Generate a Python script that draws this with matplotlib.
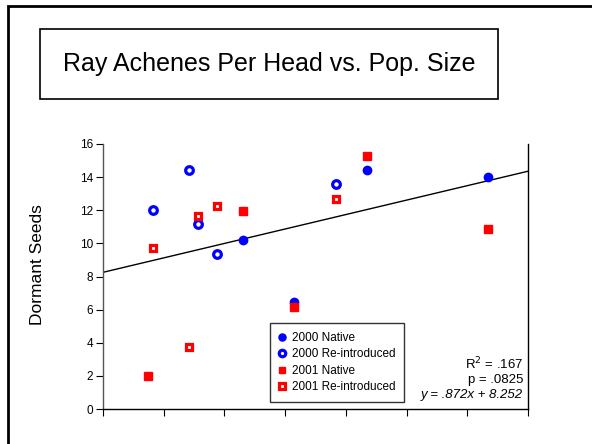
import matplotlib
matplotlib.use("Agg")
import matplotlib.pyplot as plt
from matplotlib.patches import Rectangle

plt.rcParams['font.family'] = ['Liberation Sans', 'DejaVu Sans']

# datos
nat00_x = [2.30, 4.35, 6.34, 3.14]
nat00_y = [10.2, 14.42, 14.0, 6.48]
rei00_x = [0.82, 1.42, 1.57, 1.88, 3.84]
rei00_y = [12.0, 14.4, 11.19, 9.33, 13.6]
nat01_x = [2.30, 4.35, 6.34, 3.15, 0.74]
nat01_y = [11.98, 15.3, 10.85, 6.18, 1.98]
rei01_x = [0.82, 1.57, 1.88, 3.84, 1.42]
rei01_y = [9.7, 11.64, 12.24, 12.7, 3.74]

pendiente = 0.872
intercepto = 8.252
x_linea = [0, 7]
y_linea = [intercepto + pendiente * x for x in x_linea]

W, H = 592, 444
fig = plt.figure(figsize=(5.92, 4.44), dpi=100)

# marco exterior de la diapositiva
fig.patches.append(Rectangle((8 / W, -0.2), 2.0, 0.2 + 1 - 6 / H, transform=fig.transFigure,
                             fill=False, edgecolor='black', linewidth=2.0))

# caja del titulo
fig.patches.append(Rectangle((40 / W, 1 - 99 / H), 458 / W, 70 / H, transform=fig.transFigure,
                             fill=False, edgecolor='black', linewidth=1.2))
fig.text(269 / W, 1 - 64 / H, 'Ray Achenes Per Head vs. Pop. Size', ha='center', va='center',
         fontsize=18)

ax = fig.add_axes([103 / W, 1 - 409 / H, 425 / W, 265 / H])
ax.plot(x_linea, y_linea, color='black', linewidth=1.0, zorder=2)

ax.plot(nat00_x, nat00_y, 'o', color='#0000ff', markersize=6, linestyle='none',
        label='2000 Native', zorder=3)
ax.plot(rei00_x, rei00_y, 'o', markerfacecolor='white', markeredgecolor='#0000ff',
        markeredgewidth=2.3, markersize=5.5, linestyle='none', label='2000 Re-introduced', zorder=3)
ax.plot(nat01_x, nat01_y, 's', color='#ff0000', markersize=5.5, linestyle='none',
        label='2001 Native', zorder=4)
ax.plot(rei01_x, rei01_y, 's', markerfacecolor='white', markeredgecolor='#ff0000',
        markeredgewidth=2.3, markersize=5, linestyle='none', label='2001 Re-introduced', zorder=4)

ax.set_xlim(0, 7)
ax.set_ylim(0, 16)
ax.set_xticks(range(0, 8))
ax.set_xticklabels([])
ax.set_yticks(range(0, 17, 2))
ax.tick_params(axis='both', direction='out', length=5, width=0.8, labelsize=8.5, colors='black')
ax.tick_params(axis='y', pad=2)
ax.spines['top'].set_visible(False)
ax.spines['left'].set_color('#555555')
for s in ['left', 'bottom', 'right']:
    ax.spines[s].set_linewidth(1.0)

fig.text(38 / W, 1 - 265 / H, 'Dormant Seeds', rotation=90, ha='center', va='center', fontsize=12.5)

leg = ax.legend(loc='lower left', bbox_to_anchor=(270 / W, 1 - 402 / H),
                bbox_transform=fig.transFigure, fontsize=8.5, frameon=True, fancybox=False,
                handlelength=0.6, handletextpad=0.5, labelspacing=0.38, borderpad=0.75,
                borderaxespad=0, markerscale=0.85)
leg.get_frame().set_edgecolor('black')
leg.get_frame().set_linewidth(1.0)

fig.text(523 / W, 1 - 369 / H, 'R$^2$ = .167', ha='right', va='baseline', fontsize=9.5)
fig.text(523 / W, 1 - 383 / H, 'p = .0825', ha='right', va='baseline', fontsize=9.5)
fig.text(523 / W, 1 - 398 / H, 'y = .872x + 8.252', ha='right', va='baseline', fontsize=9.5,
         style='italic')

fig.savefig('out.png', dpi=100)
